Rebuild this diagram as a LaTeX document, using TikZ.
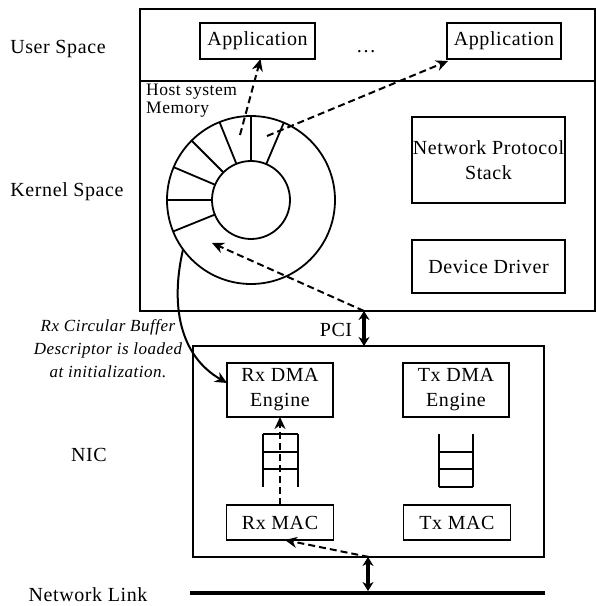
\documentclass[tikz,border=0pt]{standalone}
\usepackage{fontspec}
\setmainfont{Liberation Serif}[LetterSpace=3]
\usepackage{tikz}
\usetikzlibrary{arrows.meta,positioning,calc}

\begin{document}
\begin{tikzpicture}[
    x=1pt, y=1pt,
    node distance=70pt,
    box/.style={rectangle, draw, line width=1.8pt, inner sep=0pt, outer sep=0pt, align=center, font=\fontsize{20}{25}\selectfont},
    frame/.style={rectangle, draw, line width=1.8pt, inner sep=0pt, outer sep=0pt},
    lbl/.style={inner sep=0pt, align=center, font=\fontsize{20}{24}\selectfont},
    ring/.style={circle, draw, line width=1.8pt, inner sep=0pt, outer sep=0pt},
    flow/.style={-{Stealth[length=12pt,width=11pt]}, line width=2pt, dash pattern=on 7pt off 4pt},
    link/.style={{Stealth[length=9pt,width=11pt]}-{Stealth[length=9pt,width=11pt]}, line width=3.5pt}
]
    \useasboundingbox (0,0) rectangle (596,606);

    % Host
    \node[frame, minimum width=455, minimum height=302] (host) at (367.5,446) {};
    \draw[line width=1.8pt] (host.west |- 0,525) -- (host.east |- 0,525);
    \node[lbl] (user) at (58,557) {User Space};
    \node[lbl] (kernel) at (67,414) {Kernel Space};

    \node[box, minimum width=115, minimum height=36] (app1) at (257.5,565) {Application};
    \node[box, minimum width=114, minimum height=36, right=132pt of app1] (app2) {Application};
    \node[lbl] (dots) at (366,554) {\dots};

    \node[box, minimum width=153, minimum height=86] (stack) at (488.5,446) {Network Protocol\\Stack};
    \node[box, minimum width=153, minimum height=53, below=37pt of stack] (driver) {Device Driver};

    % Host memory ring
    \node[inner sep=0pt, anchor=north west, align=left, font=\fontsize{17.5}{18}\selectfont] (mem) at (146,522) {Host system\\Memory};
    \node[ring, minimum size=168] (rbout) at (251,406) {};
    \node[ring, minimum size=78] (rbin) at (251,406) {};
    \foreach \a in {67.5,90,...,202.5}
        \draw[line width=1.8pt] (rbin.\a) -- (rbout.\a);
    \coordinate (slotA) at (240,471);
    \coordinate (slotB) at (267,470);
    \coordinate (slotC) at (212,363);

    % NIC
    \node[frame, minimum width=351, minimum height=211] (nic) at (368.5,154.5) {};
    \node[lbl] (niclbl) at (89,151) {NIC};
    \node[box, minimum width=106, minimum height=54] (rxdma) at (280,216) {Rx DMA\\Engine};
    \node[box, minimum width=106, minimum height=54, right=of rxdma] (txdma) {Tx DMA\\Engine};
    \node[box, minimum width=107, minimum height=35, below=88pt of rxdma] (rxmac) {Rx MAC};
    \node[box, minimum width=107, minimum height=35, right=of rxmac] (txmac) {Tx MAC};

    % queues
    \draw[line width=1.8pt] (263,172) -- (263,119) (298,172) -- (298,119)
        (263,172) -- (298,172) (263,154) -- (298,154) (263,137) -- (298,137);
    \draw[line width=1.8pt] (439,172) -- (439,119) (473,172) -- (473,119)
        (439,154) -- (473,154) (439,137) -- (473,137) (439,119) -- (473,119);

    % PCI and network link
    \node[lbl] (pcilbl) at (336,276) {PCI};
    \coordinate (pci) at (364,0);
    \draw[link] (host.south -| pci) -- (nic.north -| pci);
    \coordinate (netl) at (190,13);
    \coordinate (netr) at (545,13);
    \coordinate (phy) at (368,15);
    \draw[line width=4.5pt] (netl) -- (netr);
    \draw[link] (nic.south -| phy) -- (phy);
    \node[lbl] (netlbl) at (88,11) {Network Link};

    % descriptor note
    \node[inner sep=0pt, align=center, font=\fontsize{17}{23}\selectfont\itshape] (note) at (108,257)
        {Rx Circular Buffer\\Descriptor is loaded\\at initialization.};
    \draw[-{Stealth[length=12pt,width=11pt]}, line width=2pt] (rbout.216) .. controls (170,300) and (180,250) .. ([yshift=7pt]rxdma.west);

    % data path
    \draw[flow] ([xshift=5pt]nic.south -| pci) -- ([xshift=5pt]rxmac.south);
    \draw[flow] (rxmac.north) -- (rxdma.south);
    \draw[flow] (host.south -| pci) -- (slotC);
    \draw[flow] (slotA) -- ([xshift=3pt]app1.south);
    \draw[flow] (slotB) -- ([shift={(1pt,-2pt)}]app2.south west);
\end{tikzpicture}
\end{document}
